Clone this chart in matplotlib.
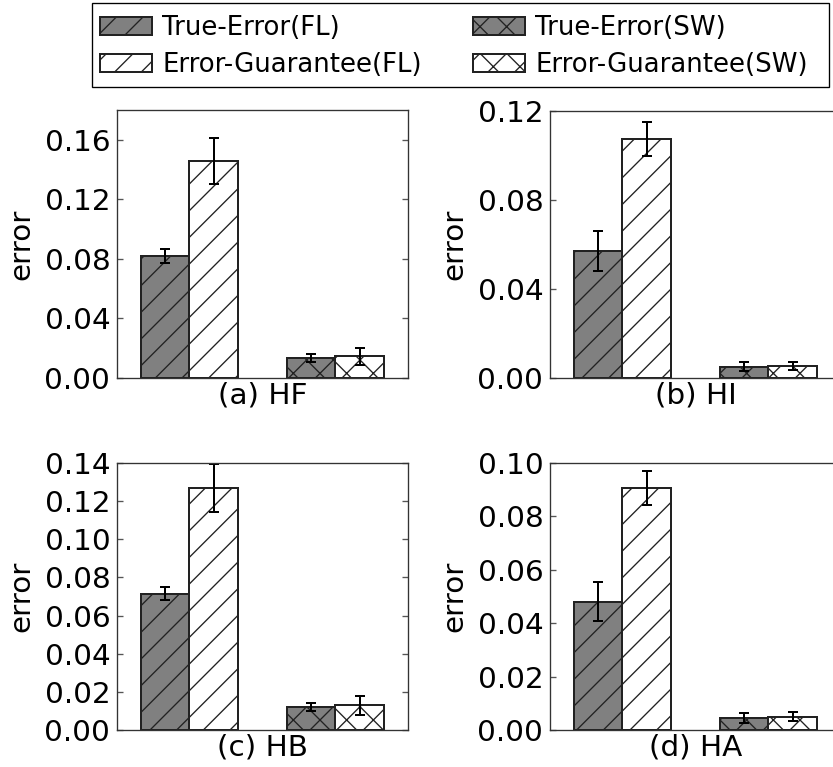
import matplotlib
matplotlib.use("Agg")
import matplotlib.pyplot as plt
from matplotlib.patches import Rectangle
import numpy as np

# ---- data ----
panels = ["(a) HF", "(b) HI", "(c) HB", "(d) HA"]
series = ["True-Error(FL)", "Error-Guarantee(FL)", "True-Error(SW)", "Error-Guarantee(SW)"]

true_fl = [0.082, 0.057, 0.0714, 0.0481]
true_fl_err = [0.0045, 0.009, 0.0034, 0.0074]
guar_fl = [0.146, 0.1073, 0.127, 0.0907]
guar_fl_err = [0.0155, 0.0077, 0.0125, 0.0064]
true_sw = [0.0135, 0.0051, 0.0119, 0.0045]
true_sw_err = [0.0027, 0.002, 0.002, 0.0018]
guar_sw = [0.0146, 0.0055, 0.013, 0.005]
guar_sw_err = [0.0058, 0.0018, 0.005, 0.0016]

ylims = [0.18, 0.12, 0.14, 0.10]
ytick_steps = [0.04, 0.04, 0.02, 0.02]

W, H, DPI = 833, 767, 160
FS = 29.5 * 72 / DPI   # axis text
LFS = 26 * 72 / DPI    # legend text

plt.rcParams['font.family'] = ['DejaVu Sans']
plt.rcParams['hatch.linewidth'] = 0.6
plt.rcParams['hatch.color'] = '#222222'

fig = plt.figure(figsize=(W / DPI, H / DPI), dpi=DPI)

# axes boxes in pixels: left, right, top, bottom
boxes = [(117, 408, 110, 378), (550, 841, 111, 378),
         (117, 408, 463, 730), (550, 841, 463, 730)]

width = 0.332
edge = '#222222'
handles = None
for i, (l, r, t, b) in enumerate(boxes):
    ax = fig.add_axes([l / W, 1 - b / H, (r - l) / W, (b - t) / H])
    ekw = dict(ecolor='black', elinewidth=0.9, capsize=2.3, capthick=0.9)
    h1 = ax.bar([0], [true_fl[i]], width, align='edge', color='#808080', edgecolor=edge,
                linewidth=0.9, hatch='//', yerr=[true_fl_err[i]], error_kw=ekw)
    h2 = ax.bar([width], [guar_fl[i]], width, align='edge', color='white', edgecolor=edge,
                linewidth=0.9, hatch='//', yerr=[guar_fl_err[i]], error_kw=ekw)
    h3 = ax.bar([1], [true_sw[i]], width, align='edge', color='#808080', edgecolor=edge,
                linewidth=0.9, hatch='xx', yerr=[true_sw_err[i]], error_kw=ekw)
    h4 = ax.bar([1 + width], [guar_sw[i]], width, align='edge', color='white', edgecolor=edge,
                linewidth=0.9, hatch='xx', yerr=[guar_sw_err[i]], error_kw=ekw)
    if handles is None:
        handles = [h1, h2, h3, h4]
    ax.set_xlim(-0.165, 1.83)
    ax.set_ylim(0, ylims[i])
    ax.set_yticks(np.arange(0, ylims[i] + 1e-9, ytick_steps[i]))
    ax.yaxis.set_major_formatter(matplotlib.ticker.FormatStrFormatter('%.2f'))
    ax.set_xticks([])
    ax.tick_params(axis='y', direction='in', length=2.5, width=0.6, color='#555555',
                   labelsize=FS, right=True, pad=3)
    for s in ax.spines.values():
        s.set_linewidth(0.6)
        s.set_color('#333333')
    ax.set_ylabel("error", fontsize=FS, labelpad=4)
    ax.set_xlabel(panels[i], fontsize=FS, labelpad=1.5)

leg = fig.legend(handles, series,
                 loc='upper left', bbox_to_anchor=(92 / W, 1 - 7 / H), borderaxespad=0,
                 ncol=2, fontsize=LFS, handlelength=2.0, handleheight=0.7,
                 handletextpad=0.4, columnspacing=1.96, labelspacing=0.42,
                 borderpad=0.3, frameon=False)
fig.patches.append(Rectangle((92 / W, 1 - 87 / H), (829 - 92) / W, 84 / H,
                             transform=fig.transFigure, fill=False,
                             edgecolor='black', linewidth=0.6, zorder=0))

fig.savefig("out.png", dpi=DPI)
